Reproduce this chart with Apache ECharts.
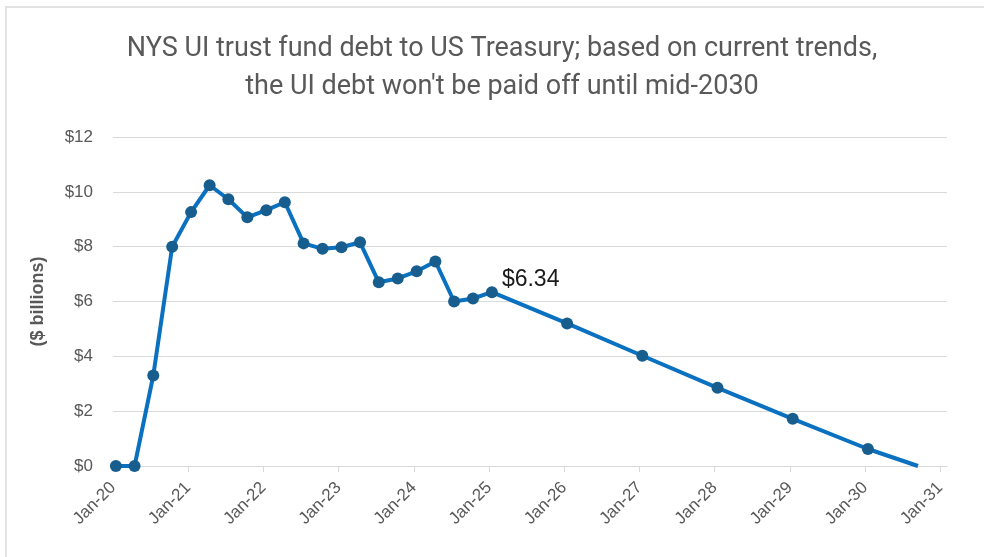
<!DOCTYPE html>
<html>
<head>
<meta charset="utf-8">
<script src="https://cdn.jsdelivr.net/npm/echarts@6/dist/echarts.min.js"></script>
<style>
  html, body { margin: 0; padding: 0; background: #fff; }
  #chart { width: 984px; height: 557px; }
</style>
</head>
<body>
<div id="chart"></div>
<script>
// 实际值：季度（2020-01 ~ 2025-01）
const actualDates = [
  '2020-01-15', '2020-04-15', '2020-07-15', '2020-10-15',
  '2021-01-15', '2021-04-15', '2021-07-15', '2021-10-15',
  '2022-01-15', '2022-04-15', '2022-07-15', '2022-10-15',
  '2023-01-15', '2023-04-15', '2023-07-15', '2023-10-15',
  '2024-01-15', '2024-04-15', '2024-07-15', '2024-10-15',
  '2025-01-15'
];
const actualDebt = [
  0, 0, 3.3, 8.0,
  9.26, 10.24, 9.73, 9.07,
  9.33, 9.62, 8.12, 7.92,
  7.98, 8.16, 6.70, 6.84,
  7.10, 7.46, 6.0, 6.11,
  6.34
];
// 预测值：每年一月
const projDates = ['2026-01-15', '2027-01-15', '2028-01-15', '2029-01-15', '2030-01-15'];
const projDebt = [5.2, 4.02, 2.85, 1.72, 0.62];
// 还清时间点（无标记）
const payoffDate = '2030-09-15';
const payoffDebt = 0;

const tickYears = [2020, 2021, 2022, 2023, 2024, 2025, 2026, 2027, 2028, 2029, 2030, 2031];
const yTicks = [0, 2, 4, 6, 8, 10, 12];
const labelIndex = actualDates.length - 1; // $6.34

// 日期 -> 小数年份，交给 value 轴去映射
function toYear(s) {
  const d = new Date(s + 'T00:00:00Z');
  const y = d.getUTCFullYear();
  const start = Date.UTC(y, 0, 1);
  const end = Date.UTC(y + 1, 0, 1);
  return y + (d.getTime() - start) / (end - start);
}

const seriesData = [];
actualDates.forEach((d, i) => {
  const item = { value: [toYear(d), actualDebt[i]] };
  if (i === labelIndex) {
    item.label = {
      show: true,
      position: 'right',
      distance: 4,
      offset: [0, -13],
      formatter: '$' + actualDebt[i].toFixed(2),
      color: '#1a1a1a',
      fontSize: 23,
      fontFamily: 'Liberation Sans'
    };
  }
  seriesData.push(item);
});
projDates.forEach((d, i) => {
  seriesData.push({ value: [toYear(d), projDebt[i]] });
});
seriesData.push({ value: [toYear(payoffDate), payoffDebt], symbol: 'none' });

const myChart = echarts.init(document.getElementById('chart'));

const option = {
  backgroundColor: '#fff',
  animation: false,
  graphic: [{
    type: 'rect',
    shape: { x: 6, y: 7, width: 1100, height: 700 },
    style: { fill: 'none', stroke: '#e2e2e2', lineWidth: 2 },
    silent: true
  }],
  title: {
    text: "NYS UI trust fund debt to US Treasury; based on current trends,\nthe UI debt won't be paid off until mid-2030",
    left: 497,
    textAlign: 'center',
    top: 25,
    textStyle: {
      color: '#595959',
      fontSize: 27,
      fontWeight: 'normal',
      fontFamily: 'Roboto',
      lineHeight: 38
    }
  },
  grid: {
    left: 113,
    right: 37,
    top: 137,
    bottom: 91,
    containLabel: false
  },
  xAxis: {
    type: 'value',
    min: 2020,
    max: 2031.09,
    axisLine: { show: true, lineStyle: { color: '#d9d9d9', width: 1 } },
    axisTick: { show: true, length: 6, customValues: tickYears, lineStyle: { color: '#d9d9d9' } },
    axisLabel: {
      customValues: tickYears,
      rotate: 45,
      margin: 19,
      color: '#595959',
      fontSize: 17,
      fontFamily: 'Liberation Sans',
      formatter: (v) => 'Jan-' + String(Math.round(v)).slice(2)
    },
    splitLine: { show: false }
  },
  yAxis: {
    type: 'value',
    min: 0,
    max: 12,
    interval: 2,
    name: '($ billions)',
    nameLocation: 'middle',
    nameGap: 66,
    nameTextStyle: {
      color: '#595959',
      fontSize: 18,
      fontWeight: 'bold',
      fontFamily: 'Liberation Sans'
    },
    axisLine: { show: false },
    axisTick: { show: false },
    axisLabel: {
      customValues: yTicks,
      margin: 20,
      color: '#595959',
      fontSize: 17,
      fontFamily: 'Liberation Sans',
      formatter: (v) => '$' + v
    },
    splitLine: { show: true, lineStyle: { color: '#d9d9d9', width: 1 } }
  },
  series: [{
    type: 'line',
    data: seriesData,
    symbol: 'circle',
    symbolSize: 12,
    showAllSymbol: true,
    clip: false,
    lineStyle: { color: '#0A70C0', width: 4 },
    itemStyle: { color: '#175E8E', borderColor: '#175E8E', borderWidth: 0 },
    z: 3
  }]
};

myChart.setOption(option);
</script>
</body>
</html>
